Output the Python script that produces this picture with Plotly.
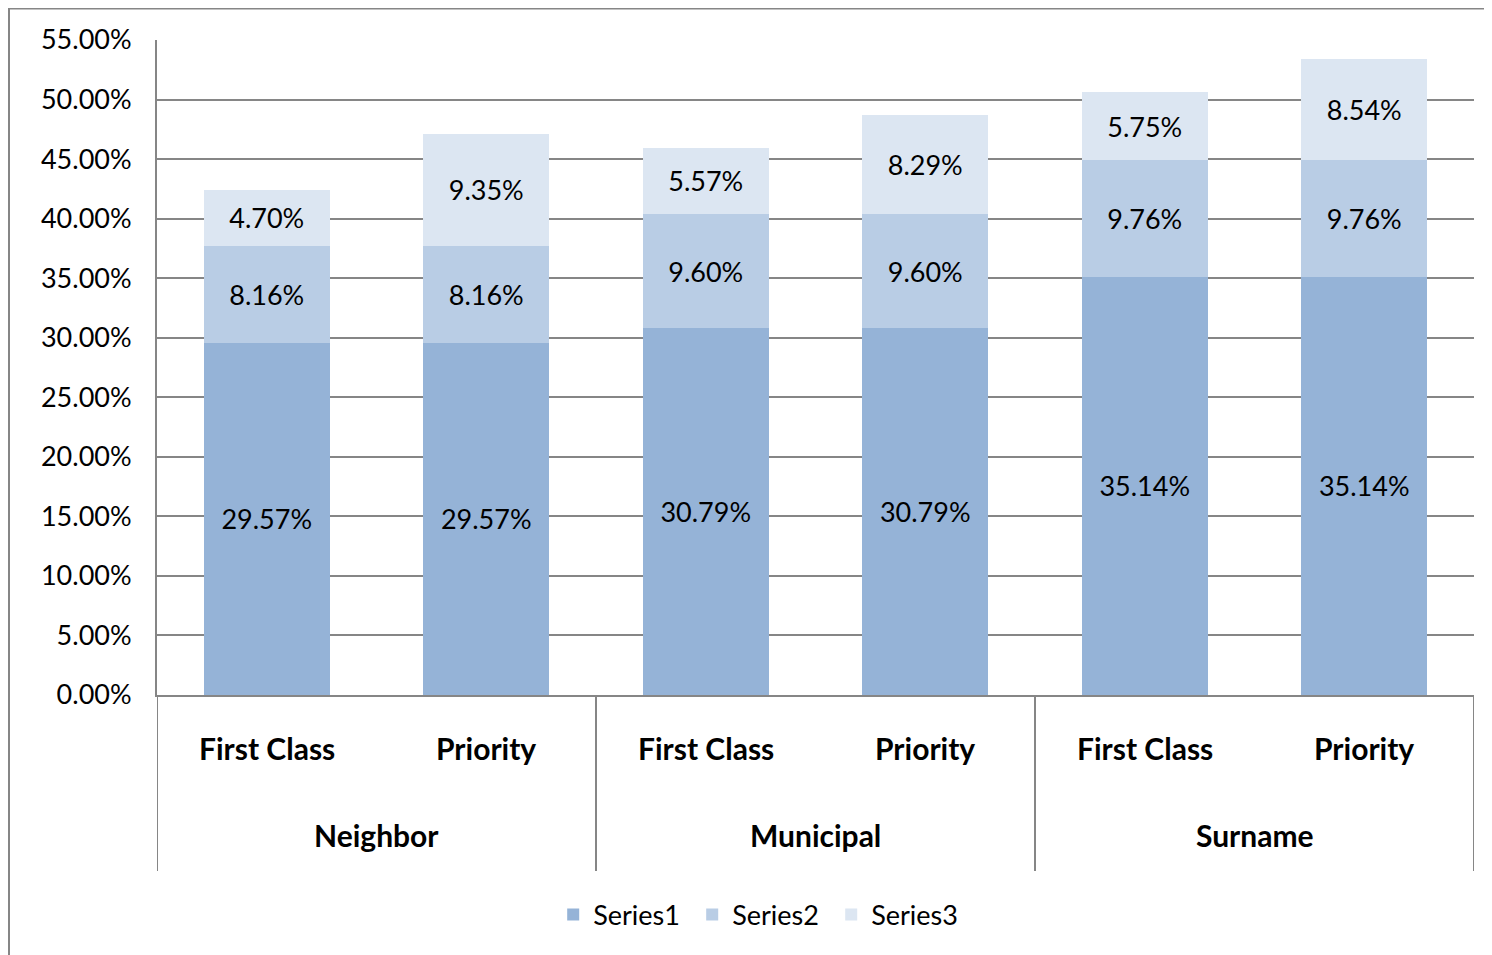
import plotly.graph_objects as go

groups = ["Neighbor", "Municipal", "Surname"]
subcats = ["First Class", "Priority", "First Class", "Priority", "First Class", "Priority"]
series1 = [29.57, 29.57, 30.79, 30.79, 35.14, 35.14]
series2 = [8.16, 8.16, 9.60, 9.60, 9.76, 9.76]
series3 = [4.70, 9.35, 5.57, 8.29, 5.75, 8.54]
series_names = ["Series1", "Series2", "Series3"]
colors = ["#95B3D7", "#B9CDE5", "#DCE6F2"]
yticks = [0, 5, 10, 15, 20, 25, 30, 35, 40, 45, 50, 55]

FONT = "Lato"
OFF = 8  # page body margin
W, H = 1492 - OFF, 955 - OFF
L, T = 157 - OFF, 40 - OFF
pw, ph = 1317, 655
R, B = W - L - pw, H - T - ph

x = list(range(len(subcats)))
fig = go.Figure()
for name, vals, col in zip(series_names, [series1, series2, series3], colors):
    fig.add_trace(go.Bar(
        x=x, y=vals, name=name, marker=dict(color=col, line=dict(width=0)),
        width=0.575, text=[f"{v:.2f}%" for v in vals], textposition="inside",
        insidetextanchor="middle", textangle=0,
        textfont=dict(family=FONT, size=27, color="black"), hoverinfo="skip",
    ))

def py(pix):  # pix in page coordinates
    return (T + ph - (pix - OFF)) / ph

def px_(pix):
    return ((pix - OFF) - L) / pw

ann = []
for i, s in enumerate(subcats):
    ann.append(dict(x=i, y=py(748), xref="x", yref="paper", yanchor="middle", text=f"<b>{s}</b>",
                    showarrow=False, font=dict(family=FONT, size=30, color="black")))
for g, name in enumerate(groups):
    ann.append(dict(x=2 * g + 0.5, y=py(835), xref="x", yref="paper", yanchor="middle",
                    text=f"<b>{name}</b>",
                    showarrow=False, font=dict(family=FONT, size=30, color="black")))

shapes = []
for xv in [-0.5, 1.5, 3.5, 5.5]:
    shapes.append(dict(type="line", xref="x", yref="paper", x0=xv, x1=xv, y0=0, y1=py(871),
                       line=dict(color="#868686", width=2)))
shapes.append(dict(type="rect", xref="paper", yref="paper", x0=px_(9), x1=px_(1510),
                   y0=py(970), y1=py(8.5), line=dict(color="#868686", width=2), layer="below"))

fig.update_layout(
    width=W, height=H, margin=dict(l=L, r=R, t=T, b=B, autoexpand=False),
    barmode="stack", plot_bgcolor="white", paper_bgcolor="white",
    font=dict(family=FONT, color="black"),
    uniformtext=dict(minsize=27, mode="show"),
    xaxis=dict(range=[-0.5, 5.5], showticklabels=False, showgrid=False, zeroline=False,
               showline=True, linecolor="#868686", linewidth=2),
    yaxis=dict(range=[0, 55], tickvals=yticks, ticktext=[f"{v:.2f}%" for v in yticks],
               showgrid=True, gridcolor="#868686", gridwidth=2, zeroline=False,
               showline=True, linecolor="#868686", linewidth=2,
               tickfont=dict(family=FONT, size=27, color="black"), ticks="", ticklen=0,
               ticklabelstandoff=18),
    legend=dict(orientation="h", x=px_(569) - 0.012, xanchor="left", y=py(915), yanchor="middle",
                font=dict(family=FONT, size=27, color="black"), traceorder="normal",
                itemwidth=30, entrywidth=94, entrywidthmode="pixels"),
    annotations=ann, shapes=shapes, showlegend=True,
)
fig.write_html("out.html")
